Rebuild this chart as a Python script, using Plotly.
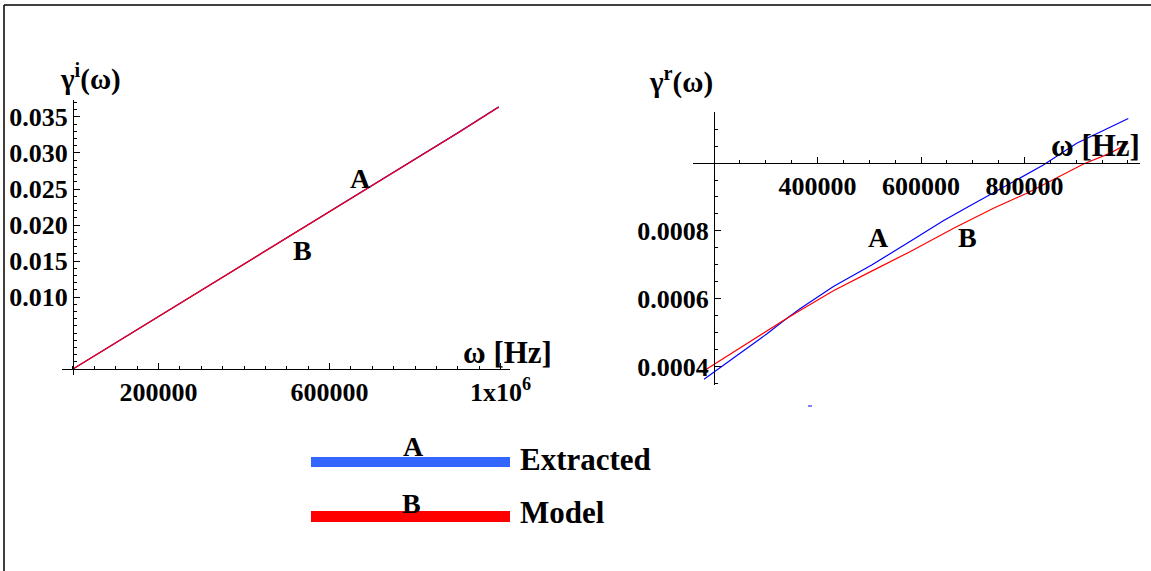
import plotly.graph_objects as go

W, H = 1151, 571

# --- left panel: imaginary part gamma^i(omega) ---
omega_left = [0, 100000, 200000, 300000, 400000, 500000, 600000, 700000, 800000, 900000, 996000]
gi_extracted = [0.0, 0.00364, 0.00728, 0.01092, 0.01458, 0.01822, 0.02186, 0.02552, 0.02915, 0.03280, 0.03640]
gi_model = [0.0, 0.00363, 0.00727, 0.01091, 0.01456, 0.01820, 0.02185, 0.02550, 0.02914, 0.03278, 0.03638]

left_xticks = [200000, 600000, 1000000]
left_xticktext = ["200000", "600000", "1x10<sup>6</sup>"]
left_yticks = [0.010, 0.015, 0.020, 0.025, 0.030, 0.035]
left_yticktext = ["0.010", "0.015", "0.020", "0.025", "0.030", "0.035"]

# --- right panel: real part gamma^r(omega) ---
omega_right_A = [180700, 237300, 301800, 334000, 366200, 430700, 504700, 578700,
                 643100, 694700, 772000, 836400, 900900, 1000600]
gr_extracted = [0.000364, 0.000426, 0.000497, 0.000535, 0.000571, 0.000637, 0.000700, 0.000769,
                0.000830, 0.000874, 0.000940, 0.000994, 0.001058, 0.001131]
omega_right_B = [180700, 237300, 301800, 334000, 366200, 430700, 504700, 578700,
                 663000, 740000, 804500, 869000, 914000, 965700, 1000600]
gr_model = [0.000389, 0.000444, 0.000505, 0.000537, 0.000566, 0.000624, 0.000682, 0.000739,
            0.000808, 0.000867, 0.000911, 0.000962, 0.000997, 0.001029, 0.001058]

right_xticks = [400000, 600000, 800000]
right_xticktext = ["400000", "600000", "800000"]
right_yticks = [0.0004, 0.0006, 0.0008]
right_yticktext = ["0.0004", "0.0006", "0.0008"]

series_names = ["Extracted", "Model"]
series_tags = ["A", "B"]


def px(x):
    return x / W


def py(y):
    return 1 - y / H


def font(size):
    return dict(family="Liberation Serif", size=size, color="black", weight="bold")


BLUE, RED = "#0000ff", "#ff0000"

fig = go.Figure()
fig.add_trace(go.Scatter(x=omega_left, y=gi_extracted, mode="lines",
                         line=dict(color=BLUE, width=1.3), xaxis="x", yaxis="y"))
fig.add_trace(go.Scatter(x=omega_left, y=gi_model, mode="lines",
                         line=dict(color=RED, width=1.3), xaxis="x", yaxis="y"))
fig.add_trace(go.Scatter(x=omega_right_A, y=gr_extracted, mode="lines",
                         line=dict(color=BLUE, width=1.2), xaxis="x2", yaxis="y2"))
fig.add_trace(go.Scatter(x=omega_right_B, y=gr_model, mode="lines",
                         line=dict(color=RED, width=1.2), xaxis="x2", yaxis="y2"))


def axis_common(tickvals, ticktext, dtick, tick0):
    return dict(
        tickmode="array", tickvals=tickvals, ticktext=ticktext,
        ticks="inside", ticklen=6, tickwidth=1, tickcolor="black",
        showline=True, linecolor="black", linewidth=1, automargin=False,
        showgrid=False, zeroline=False, tickfont=font(26), anchor="free",
        minor=dict(ticks="inside", ticklen=3, tickwidth=1, tickcolor="black",
                   dtick=dtick, tick0=tick0, showgrid=False),
    )


fig.update_layout(
    template="none",
    width=W, height=H, autosize=False, margin=dict(l=0, r=0, t=0, b=0, pad=0),
    paper_bgcolor="white", plot_bgcolor="white", showlegend=False,
    xaxis=dict(domain=[px(62), px(510)], range=[-25700, 1022200],
               position=py(369), **axis_common(left_xticks, left_xticktext, 50000, 0)),
    yaxis=dict(domain=[py(375), py(100)], range=[-0.000833, 0.03736],
               position=px(73), **axis_common(left_yticks, left_yticktext, 0.001, 0)),
    xaxis2=dict(domain=[px(693), px(1140)], range=[159420, 1023200],
                position=py(163), **axis_common(right_xticks, right_xticktext, 50000, 0)),
    yaxis2=dict(domain=[py(385), py(112)], range=[0.000347, 0.00115],
                position=px(714), **axis_common(right_yticks, right_yticktext, 0.00005, 0)),
)

annotations = []


def label(text, x, y, size, xanchor="center"):
    annotations.append(dict(text=text, x=px(x), y=py(y), xref="paper", yref="paper",
                            xanchor=xanchor, yanchor="middle", showarrow=False, font=font(size)))


# axis titles
label("γ<sup>i</sup>(ω)", 90, 77, 29)
label("ω [Hz]", 507, 352, 31)
label("γ<sup>r</sup>(ω)", 681, 80, 29)
label("ω [Hz]", 1095, 145, 31)

# curve tags
label(series_tags[0], 360, 178, 28)
label(series_tags[1], 302, 250, 28)
label(series_tags[0], 878, 238, 28)
label(series_tags[1], 967, 238, 28)

# legend
label(series_tags[0], 413, 446, 28)
label(series_tags[1], 411, 503, 28)
label(series_names[0], 518, 459, 31, xanchor="left")
label(series_names[1], 518, 512, 31, xanchor="left")

fig.update_layout(annotations=annotations)

shapes = [
    # frame (top and left edges)
    dict(type="line", xref="paper", yref="paper", x0=px(4), y0=py(5), x1=px(1151), y1=py(5),
         line=dict(color="black", width=1.5)),
    dict(type="line", xref="paper", yref="paper", x0=px(4), y0=py(5), x1=px(4), y1=py(571),
         line=dict(color="black", width=1.5)),
    # legend swatches
    dict(type="line", xref="paper", yref="paper", x0=px(311), y0=py(462), x1=px(510), y1=py(462),
         line=dict(color="#3366ff", width=10)),
    dict(type="line", xref="paper", yref="paper", x0=px(311), y0=py(516.5), x1=px(510), y1=py(516.5),
         line=dict(color="#ff0000", width=11)),
    # small stray mark below the right panel
    dict(type="line", xref="paper", yref="paper", x0=px(808), y0=py(406), x1=px(812), y1=py(406),
         line=dict(color=BLUE, width=1)),
]
fig.update_layout(shapes=shapes)

fig.write_html("out.html")
